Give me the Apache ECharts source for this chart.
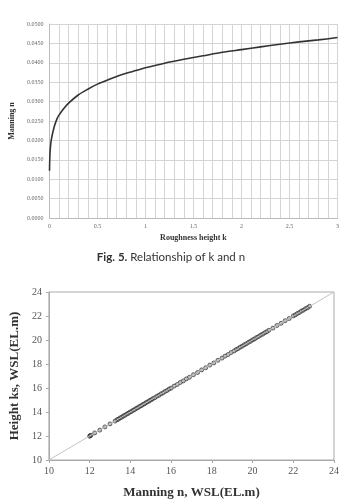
<!DOCTYPE html>
<html lang="en">
<head>
    <meta charset="UTF-8">
    <title>k and n</title>
    <script type="text/javascript" src="https://cdn.jsdelivr.net/npm/echarts@6/dist/echarts.min.js"></script>
    <style>
        body { margin: 0; background: #fff; }
    </style>
</head>
<body>
<div id="main" style="width: 342px;height: 500px"></div>
</body>
<script>
    // top chart: roughness height k vs Manning n
    var roughK = [0.001, 0.005, 0.01, 0.02, 0.05, 0.08, 0.1, 0.15, 0.2, 0.3, 0.4, 0.5, 0.6, 0.7, 0.8, 0.9,
        1.0, 1.2, 1.4, 1.6, 1.8, 2.0, 2.2, 2.4, 2.6, 2.8, 3.0]
    var manningN = [0.0122, 0.0160, 0.0180, 0.0202, 0.0235, 0.0256, 0.0265, 0.0282, 0.0296, 0.0317, 0.0332, 0.0345, 0.0355, 0.0365, 0.0373, 0.0380,
        0.0387, 0.0399, 0.0409, 0.0418, 0.0427, 0.0434, 0.0441, 0.0448, 0.0454, 0.0459, 0.0465]

    // bottom chart: WSL from Manning n vs WSL from height ks
    var manningWsl = [12.00, 12.03, 12.06, 12.25, 12.5, 12.75, 13.0, 13.25, 13.35, 13.42, 13.5, 13.58, 13.66, 13.74, 13.82, 13.9,
        13.98, 14.06, 14.14, 14.22, 14.3, 14.38, 14.46, 14.54, 14.62, 14.7, 14.78, 14.86, 14.94, 15.02, 15.1, 15.2,
        15.3, 15.4, 15.5, 15.6, 15.7, 15.8, 15.9, 16.0, 16.15, 16.3, 16.45, 16.6, 16.75, 16.9, 17.1, 17.3,
        17.5, 17.7, 17.9, 18.1, 18.3, 18.5, 18.65, 18.8, 18.95, 19.1, 19.2, 19.3, 19.4, 19.5, 19.6, 19.7,
        19.8, 19.9, 20.0, 20.1, 20.2, 20.3, 20.4, 20.5, 20.6, 20.7, 20.8, 21.0, 21.2, 21.4, 21.6, 21.8,
        22.0, 22.1, 22.2, 22.3, 22.4, 22.5, 22.6, 22.7, 22.8]
    var heightWsl = [11.98, 12.04, 12.05, 12.26, 12.49, 12.76, 13.01, 13.24, 13.36, 13.41, 13.51, 13.57, 13.67, 13.73, 13.83, 13.89,
        13.99, 14.05, 14.15, 14.21, 14.31, 14.37, 14.47, 14.53, 14.63, 14.69, 14.79, 14.85, 14.95, 15.01, 15.11, 15.19,
        15.31, 15.39, 15.51, 15.59, 15.71, 15.79, 15.91, 15.99, 16.16, 16.29, 16.46, 16.59, 16.76, 16.89, 17.11, 17.29,
        17.51, 17.69, 17.91, 18.09, 18.31, 18.49, 18.66, 18.79, 18.96, 19.09, 19.21, 19.29, 19.41, 19.49, 19.61, 19.69,
        19.81, 19.89, 20.01, 20.09, 20.21, 20.29, 20.41, 20.49, 20.61, 20.69, 20.81, 20.99, 21.21, 21.39, 21.61, 21.79,
        22.01, 22.09, 22.21, 22.29, 22.41, 22.49, 22.61, 22.69, 22.81]
    var oneToOne = [10, 24]

    var curve = []
    for (var i = 0; i < roughK.length; i++) {
        curve.push([roughK[i], manningN[i]])
    }
    var points = []
    for (var j = 0; j < manningWsl.length; j++) {
        points.push([manningWsl[j], heightWsl[j]])
    }

    var serif = "Liberation Serif"
    var grid1 = "#d4d4d4"

    var myChart = echarts.init(document.getElementById("main"))
    myChart.setOption({
        animation: false,
        backgroundColor: "#fff",
        graphic: [{
            type: "text",
            left: "center",
            top: 251,
            style: {
                text: "{b|Fig. 5.} Relationship of k and n",
                font: "11.5px Lato",
                fill: "#333",
                rich: {
                    b: {fontFamily: "Lato", fontSize: 11.5, fontWeight: "bold", fill: "#333"}
                }
            }
        }],
        grid: [
            {left: 37, right: 4, top: 24, height: 194, show: false},
            {left: 33, right: 5, top: 292, height: 177, show: true, borderColor: "#aaa", borderWidth: 1}
        ],
        xAxis: [{
            gridIndex: 0,
            type: "value",
            min: 0, max: 3, interval: 0.5,
            name: "Roughness height k",
            nameLocation: "middle",
            nameGap: 16,
            nameTextStyle: {fontFamily: serif, fontSize: 8, fontWeight: "bold", color: "#333"},
            axisLine: {show: true, lineStyle: {color: "#bbb"}},
            axisTick: {show: false},
            axisLabel: {fontFamily: serif, fontSize: 6, color: "#666", margin: 5},
            splitLine: {show: true, lineStyle: {color: grid1, width: 1}},
            minorTick: {show: false, splitNumber: 5},
            minorSplitLine: {show: true, lineStyle: {color: grid1, width: 1}}
        }, {
            gridIndex: 1,
            type: "value",
            min: 10, max: 24, interval: 2,
            name: "Manning n, WSL(EL.m)",
            nameLocation: "middle",
            nameGap: 26,
            nameTextStyle: {fontFamily: serif, fontSize: 13, fontWeight: "bold", color: "#333"},
            axisLine: {show: true, lineStyle: {color: "#aaa"}},
            axisTick: {show: true, length: 3, lineStyle: {color: "#aaa"}},
            axisLabel: {fontFamily: serif, fontSize: 10, color: "#555", margin: 6},
            splitLine: {show: false}
        }],
        yAxis: [{
            gridIndex: 0,
            type: "value",
            min: 0, max: 0.05, interval: 0.005,
            name: "Manning n",
            nameLocation: "middle",
            nameGap: 29,
            nameTextStyle: {fontFamily: serif, fontSize: 8, fontWeight: "bold", color: "#333"},
            axisLine: {show: true, lineStyle: {color: "#bbb"}},
            axisTick: {show: false},
            axisLabel: {
                fontFamily: serif, fontSize: 6, color: "#666", margin: 6,
                formatter: function (v) { return v.toFixed(4) }
            },
            splitLine: {show: true, lineStyle: {color: grid1, width: 1}}
        }, {
            gridIndex: 1,
            type: "value",
            min: 10, max: 24, interval: 2,
            name: "Height ks, WSL(EL.m)",
            nameLocation: "middle",
            nameGap: 24,
            nameTextStyle: {fontFamily: serif, fontSize: 13, fontWeight: "bold", color: "#333"},
            axisLine: {show: true, lineStyle: {color: "#aaa"}},
            axisTick: {show: true, length: 3, lineStyle: {color: "#aaa"}},
            axisLabel: {fontFamily: serif, fontSize: 10, color: "#555", margin: 7},
            splitLine: {show: false}
        }],
        series: [{
            type: "line",
            xAxisIndex: 0, yAxisIndex: 0,
            data: curve,
            smooth: 0.3,
            showSymbol: false,
            lineStyle: {color: "#333", width: 1.6}
        }, {
            type: "line",
            xAxisIndex: 1, yAxisIndex: 1,
            data: [[oneToOne[0], oneToOne[0]], [oneToOne[1], oneToOne[1]]],
            showSymbol: false,
            lineStyle: {color: "#c4c4c4", width: 1}
        }, {
            type: "scatter",
            xAxisIndex: 1, yAxisIndex: 1,
            data: points,
            symbol: "circle",
            symbolSize: 4,
            itemStyle: {color: "rgba(110,110,110,0.6)", borderColor: "#222", borderWidth: 0.8}
        }]
    })
</script>
</html>
